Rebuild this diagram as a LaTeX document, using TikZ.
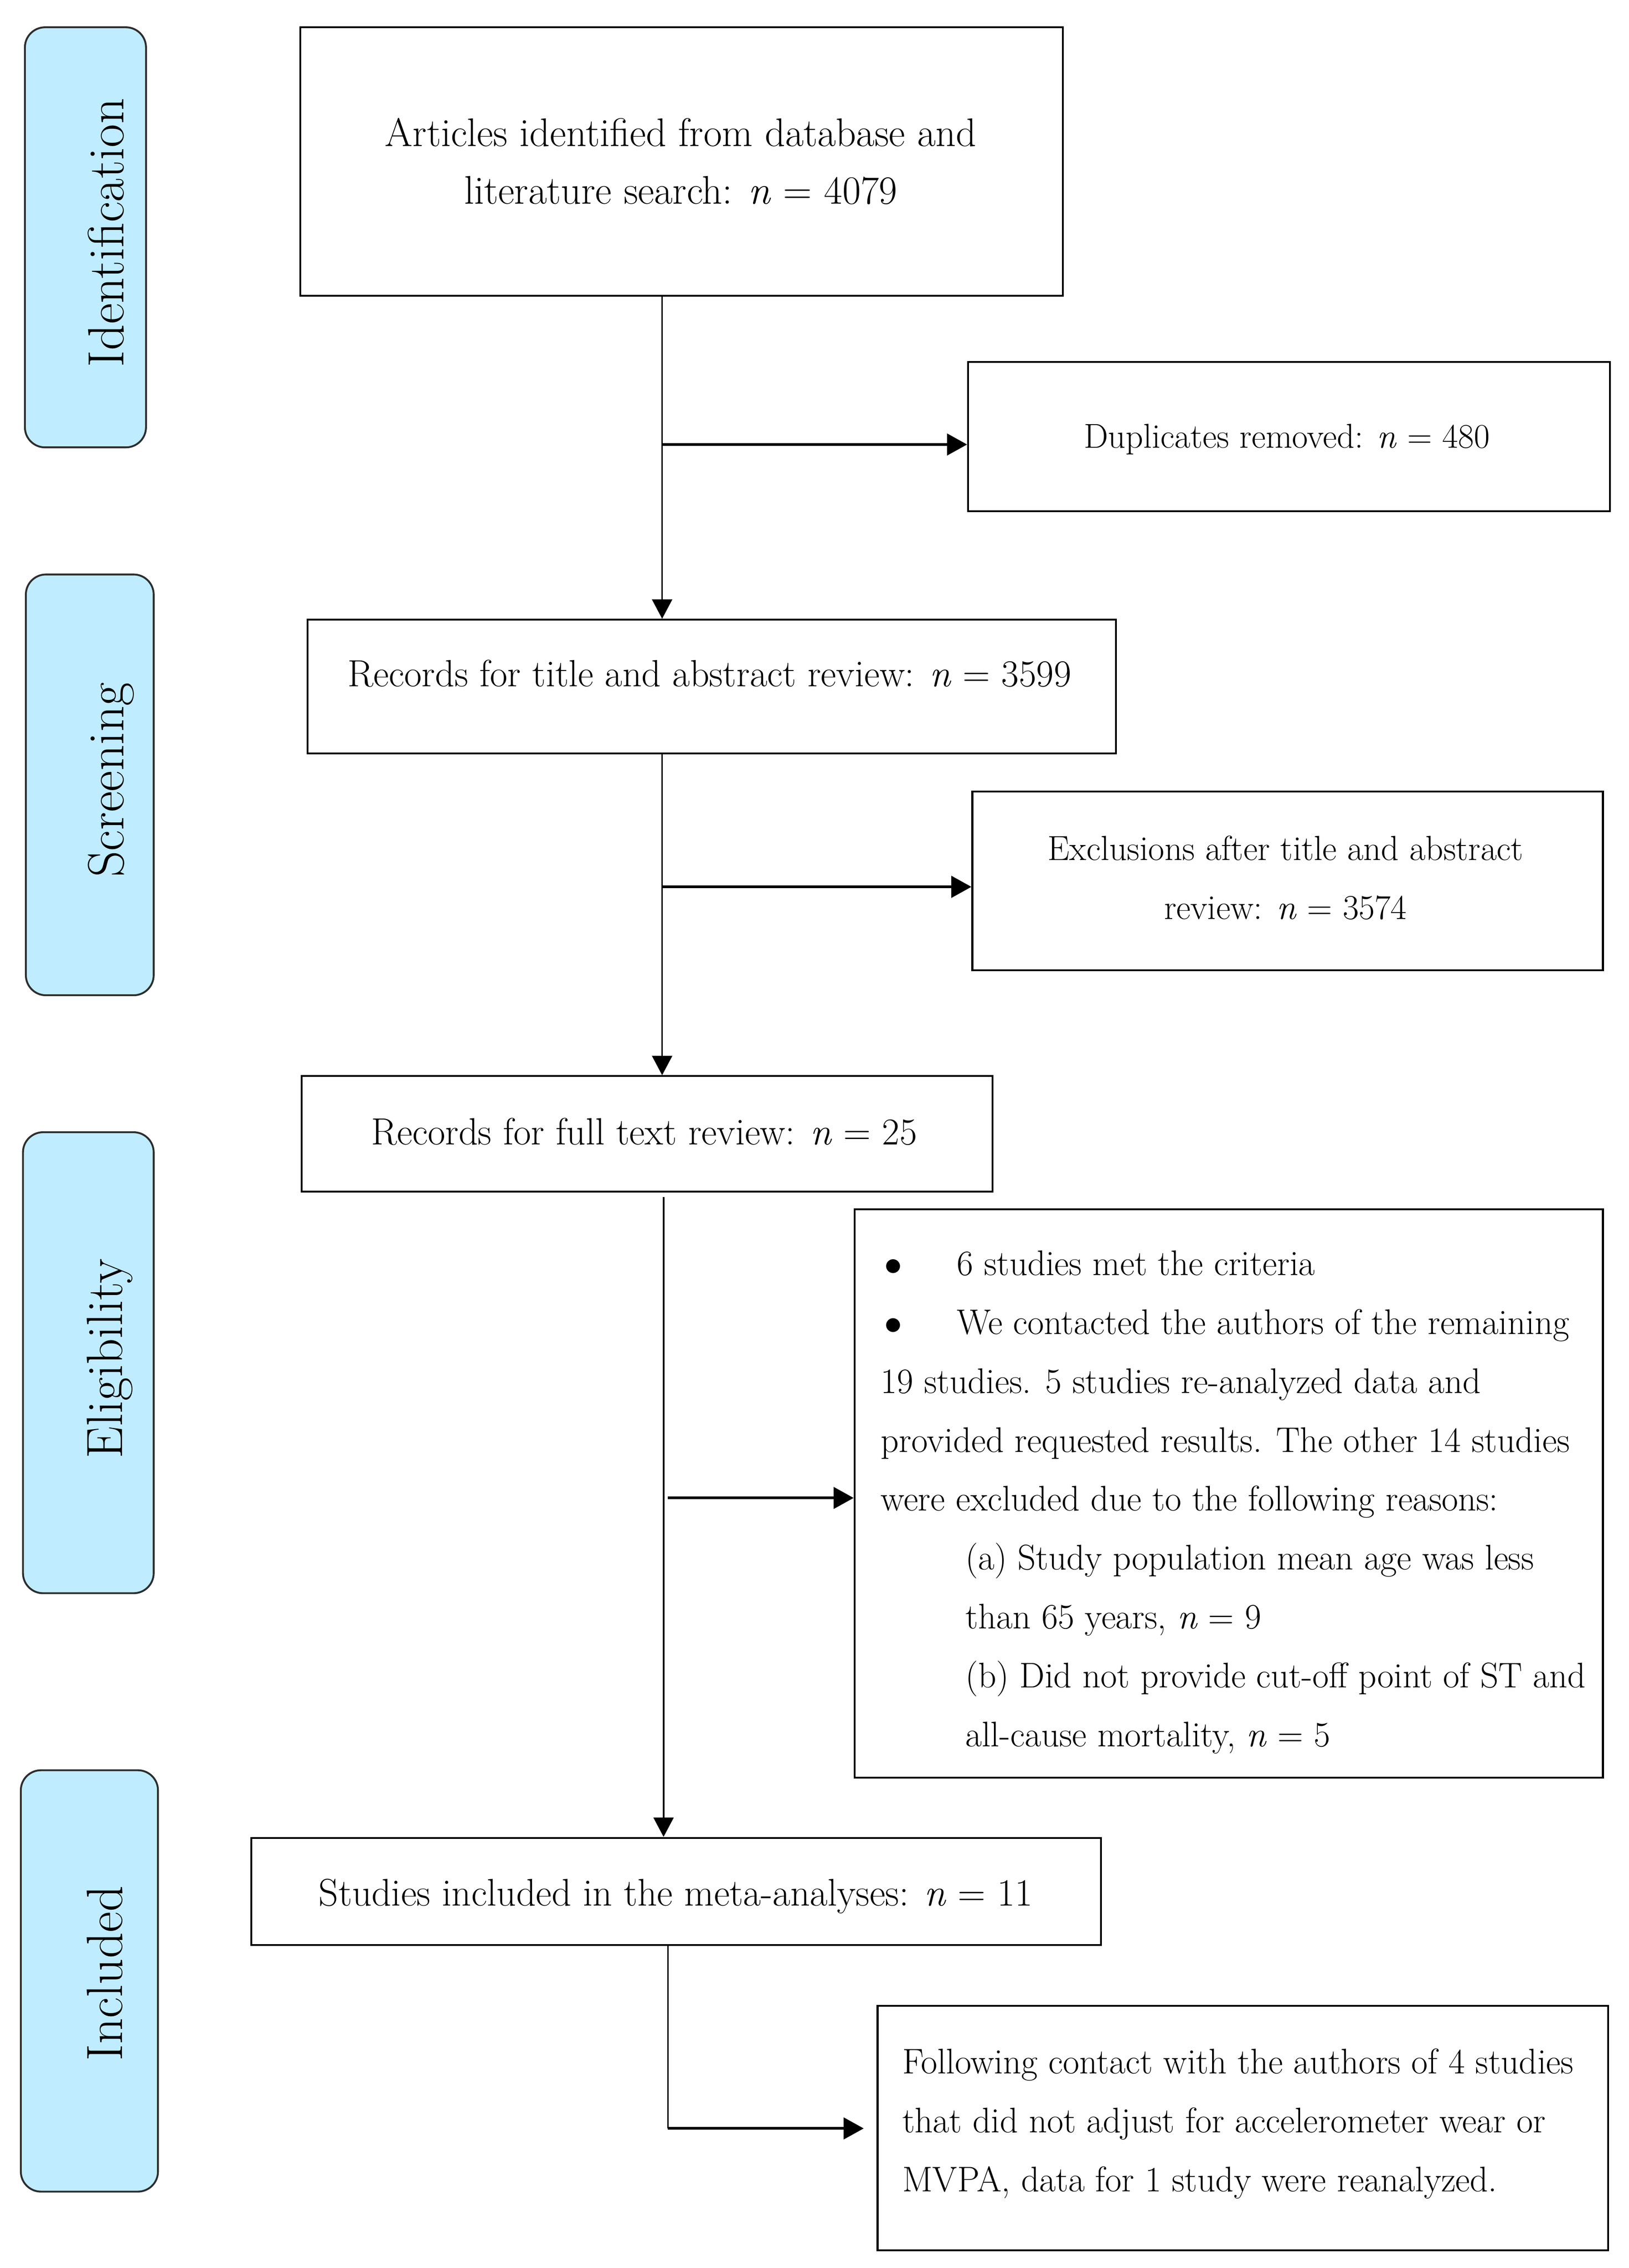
\documentclass[tikz,border=0pt]{standalone}
\usetikzlibrary{arrows.meta}
\definecolor{lblue}{RGB}{191,237,255}
\definecolor{bord}{RGB}{45,45,45}
\begin{document}
\begin{tikzpicture}[x=1pt,y=-1pt,
  box/.style={draw=black, line width=1.3pt, inner sep=0pt},
  lab/.style={draw=bord, fill=lblue, rounded corners=14pt, line width=1.3pt, inner sep=0pt},
  labtxt/.style={rotate=90, anchor=base, inner sep=0pt, font=\fontsize{35.5}{40}\selectfont},
  txt/.style={anchor=base, inner sep=0pt, font=\fontsize{#1}{41}\selectfont},
  txt/.default=23,
  ltxt/.style={anchor=base west, inner sep=0pt, font=\fontsize{#1}{41}\selectfont},
  ltxt/.default=24.8,
  vline/.style={line width=1.1pt, draw=black},
  varrow/.style={line width=1.1pt, draw=black, -{Triangle[length=13.5pt,width=14pt]}},
  harrow/.style={line width=1.8pt, draw=black, -{Triangle[length=14pt,width=15pt]}}]
\useasboundingbox (0,0) rectangle (1134,1579.2);

% stage labels
\node[lab, minimum width=84.3pt, minimum height=292.5pt] (Lid) at (59.5,165.25) {};
\node[labtxt] (Tid) at (86,162) {Identification};
\node[lab, minimum width=89pt, minimum height=293pt] (Lsc) at (62.5,546.5) {};
\node[labtxt] (Tsc) at (86,543) {Screening};
\node[lab, minimum width=91pt, minimum height=321pt] (Lel) at (61.5,948.85) {};
\node[labtxt] (Tel) at (85,946) {Eligibility};
\node[lab, minimum width=95.5pt, minimum height=293.4pt] (Lin) at (62.25,1379.3) {};
\node[labtxt] (Tin) at (85,1374) {Included};

% boxes
\node[box, minimum width=531pt, minimum height=187pt] (b1) at (474.5,112.5) {};
\node[txt=27.8] (t1a) at (474,102) {Articles identified from database and};
\node[txt=27.8] (t1b) at (474,142) {literature search: \textit{n} = 4079};

\node[box, minimum width=447pt, minimum height=104pt] (dup) at (897.5,304) {};
\node[txt=24] (td) at (896,312) {Duplicates removed: \textit{n} = 480};

\node[box, minimum width=563pt, minimum height=93pt] (b2) at (495.5,478) {};
\node[txt=26.4] (t2) at (494,478) {Records for title and abstract review: \textit{n} = 3599};

\node[box, minimum width=439pt, minimum height=124.5pt] (exc) at (896.5,613.25) {};
\node[txt=24.3] (tea) at (895,599) {Exclusions after title and abstract};
\node[txt=24.3] (teb) at (895,640) {review: \textit{n} = 3574};

\node[box, minimum width=481pt, minimum height=80.4pt] (b3) at (450.5,789.5) {};
\node[txt=26.4] (t3) at (448.5,797) {Records for full text review: \textit{n} = 25};

\node[box, minimum width=521pt, minimum height=395.7pt] (eli) at (855.5,1039.85) {};
\node[txt] (bu1) at (622,888) {$\bullet$};
\node[txt] (bu2) at (622,929) {$\bullet$};
\node[ltxt] (e1) at (666,888) {6 studies met the criteria};
\node[ltxt] (e2) at (666,929) {We contacted the authors of the remaining};
\node[ltxt] (e3) at (613,970) {19 studies. 5 studies re-analyzed data and};
\node[ltxt] (e4) at (613,1011) {provided requested results. The other 14 studies};
\node[ltxt] (e5) at (613,1052) {were excluded due to the following reasons:};
\node[ltxt] (e6) at (672,1093) {(a) Study population mean age was less};
\node[ltxt] (e7) at (672,1134) {than 65 years, \textit{n} = 9};
\node[ltxt] (e8) at (672,1175) {(b) Did not provide cut-off point of ST and};
\node[ltxt] (e9) at (672,1216) {all-cause mortality, \textit{n} = 5};

\node[box, minimum width=591.6pt, minimum height=74.7pt] (b4) at (470.8,1317) {};
\node[txt=26.8] (t4) at (470.5,1327) {Studies included in the meta-analyses: \textit{n} = 11};

\node[box, minimum width=508.6pt, minimum height=170.4pt] (lst) at (865.3,1481.8) {};
\node[ltxt] (l1) at (628,1444) {Following contact with the authors of 4 studies};
\node[ltxt] (l2) at (628,1485) {that did not adjust for accelerometer wear or};
\node[ltxt] (l3) at (628,1526) {MVPA, data for 1 study were reanalyzed.};

% connectors
\coordinate (c1) at (461,0);
\coordinate (c2) at (462,0);
\coordinate (j1) at (461,309.5);
\coordinate (j2) at (461,617.5);
\coordinate (j3) at (465,1043);
\coordinate (j4) at (465,1482);

\draw[varrow] (b1.south -| c1) -- (b2.north -| c1);
\draw[harrow] (j1) -- (j1 -| dup.west);
\draw[varrow] (b2.south -| c1) -- (b3.north -| c1);
\draw[harrow] (j2) -- (j2 -| exc.west);
\draw[varrow, shorten <=3pt] (b3.south -| c2) -- (b4.north -| c2);
\draw[harrow] (j3) -- (j3 -| eli.west);
\draw[vline] (b4.south -| j4) -- (j4);
\draw[harrow, shorten >=9pt] (j4) -- (j4 -| lst.west);
\end{tikzpicture}
\end{document}
